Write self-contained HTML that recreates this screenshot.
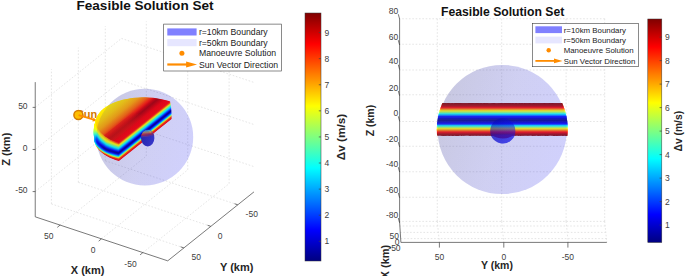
<!DOCTYPE html>
<html><head><meta charset="utf-8"><style>
html,body{margin:0;padding:0;background:#fff;}
svg{display:block;font-family:"Liberation Sans",sans-serif;}
.g{stroke:#dadada;stroke-width:0.7;stroke-dasharray:1.6 1.75;fill:none}
.ax{stroke:#404040;stroke-width:0.7;fill:none}
.tk{font-size:8.5px;fill:#404040}
.tkR{font-size:8.5px;fill:#404040}
.alR{font-size:10.5px;font-weight:bold;fill:#262626}
.al{font-size:11px;font-weight:bold;fill:#262626}
.ttl{font-size:13.55px;font-weight:bold;fill:#111}
.ttlR{font-size:12.2px;font-weight:bold;fill:#111}
.lg{fill:#1a1a1a}
.sun{font-size:11px;font-weight:bold;fill:#d27800}
</style></head><body>
<svg width="685" height="276" viewBox="0 0 685 276">
<defs>
<linearGradient id="sphL" x1="0" y1="0.35" x2="1" y2="0.65"><stop offset="0" stop-color="#484898" stop-opacity="0.163"/><stop offset="0.5" stop-color="#3434c8" stop-opacity="0.125"/><stop offset="1" stop-color="#1818f0" stop-opacity="0.106"/></linearGradient>
<linearGradient id="l37" gradientUnits="userSpaceOnUse" x1="144.6" y1="140.5" x2="121.2" y2="112.0"><stop offset="0.00" stop-color="#fa0000"/><stop offset="0.12" stop-color="#fa0000"/><stop offset="0.24" stop-color="#fa0000"/><stop offset="0.35" stop-color="#fa0000"/><stop offset="0.44" stop-color="#ff0d00"/><stop offset="0.54" stop-color="#ff2100"/><stop offset="0.66" stop-color="#ff3900"/><stop offset="0.76" stop-color="#c2ff3d"/><stop offset="0.87" stop-color="#0057ff"/><stop offset="1.00" stop-color="#0057ff"/></linearGradient>
<linearGradient id="l36" gradientUnits="userSpaceOnUse" x1="144.6" y1="140.0" x2="121.2" y2="111.5"><stop offset="0.00" stop-color="#ff0a00"/><stop offset="0.12" stop-color="#ff0e00"/><stop offset="0.24" stop-color="#ff1300"/><stop offset="0.35" stop-color="#ff1700"/><stop offset="0.44" stop-color="#ff3d00"/><stop offset="0.54" stop-color="#ff6800"/><stop offset="0.66" stop-color="#ffce00"/><stop offset="0.76" stop-color="#53ffac"/><stop offset="0.87" stop-color="#0068ff"/><stop offset="1.00" stop-color="#0068ff"/></linearGradient>
<linearGradient id="l35" gradientUnits="userSpaceOnUse" x1="144.6" y1="139.5" x2="121.2" y2="111.0"><stop offset="0.00" stop-color="#ff1a00"/><stop offset="0.12" stop-color="#ff2200"/><stop offset="0.24" stop-color="#ff2b00"/><stop offset="0.35" stop-color="#ff3300"/><stop offset="0.44" stop-color="#ff7000"/><stop offset="0.54" stop-color="#ffe600"/><stop offset="0.66" stop-color="#88ff77"/><stop offset="0.76" stop-color="#00f6ff"/><stop offset="0.87" stop-color="#0079ff"/><stop offset="1.00" stop-color="#0079ff"/></linearGradient>
<linearGradient id="l34" gradientUnits="userSpaceOnUse" x1="144.6" y1="139.0" x2="121.2" y2="110.5"><stop offset="0.00" stop-color="#ff2900"/><stop offset="0.12" stop-color="#ff4000"/><stop offset="0.24" stop-color="#ff5a00"/><stop offset="0.35" stop-color="#ff7700"/><stop offset="0.44" stop-color="#ffdc00"/><stop offset="0.54" stop-color="#d3ff2c"/><stop offset="0.66" stop-color="#2cffd3"/><stop offset="0.76" stop-color="#00daff"/><stop offset="0.87" stop-color="#008bff"/><stop offset="1.00" stop-color="#008bff"/></linearGradient>
<linearGradient id="l33" gradientUnits="userSpaceOnUse" x1="144.6" y1="138.5" x2="121.2" y2="110.0"><stop offset="0.00" stop-color="#ff3900"/><stop offset="0.12" stop-color="#ff6200"/><stop offset="0.24" stop-color="#ffb500"/><stop offset="0.35" stop-color="#fff100"/><stop offset="0.44" stop-color="#d3ff2c"/><stop offset="0.54" stop-color="#61ff9e"/><stop offset="0.66" stop-color="#00f4ff"/><stop offset="0.76" stop-color="#00caff"/><stop offset="0.87" stop-color="#009cff"/><stop offset="1.00" stop-color="#009cff"/></linearGradient>
<linearGradient id="l32" gradientUnits="userSpaceOnUse" x1="144.6" y1="138.0" x2="121.2" y2="109.5"><stop offset="0.00" stop-color="#ff6f00"/><stop offset="0.12" stop-color="#ffd100"/><stop offset="0.24" stop-color="#f1ff0e"/><stop offset="0.35" stop-color="#7fff80"/><stop offset="0.44" stop-color="#45ffba"/><stop offset="0.54" stop-color="#05fffa"/><stop offset="0.66" stop-color="#00c7ff"/><stop offset="0.76" stop-color="#00bbff"/><stop offset="0.87" stop-color="#00adff"/><stop offset="1.00" stop-color="#00adff"/></linearGradient>
<linearGradient id="l31" gradientUnits="userSpaceOnUse" x1="144.6" y1="137.5" x2="121.2" y2="109.0"><stop offset="0.00" stop-color="#ffd800"/><stop offset="0.12" stop-color="#f1ff0e"/><stop offset="0.24" stop-color="#7aff85"/><stop offset="0.35" stop-color="#1bffe4"/><stop offset="0.44" stop-color="#00f0ff"/><stop offset="0.54" stop-color="#00c9ff"/><stop offset="0.66" stop-color="#009aff"/><stop offset="0.76" stop-color="#00abff"/><stop offset="0.87" stop-color="#00bfff"/><stop offset="1.00" stop-color="#00bfff"/></linearGradient>
<linearGradient id="l30" gradientUnits="userSpaceOnUse" x1="144.6" y1="137.0" x2="121.2" y2="108.5"><stop offset="0.00" stop-color="#e8ff17"/><stop offset="0.12" stop-color="#7bff84"/><stop offset="0.24" stop-color="#1dffe2"/><stop offset="0.35" stop-color="#00d2ff"/><stop offset="0.44" stop-color="#00b5ff"/><stop offset="0.54" stop-color="#0094ff"/><stop offset="0.66" stop-color="#006cff"/><stop offset="0.76" stop-color="#009cff"/><stop offset="0.87" stop-color="#00d0ff"/><stop offset="1.00" stop-color="#00d0ff"/></linearGradient>
<linearGradient id="l29" gradientUnits="userSpaceOnUse" x1="144.6" y1="136.5" x2="121.2" y2="108.0"><stop offset="0.00" stop-color="#63ff9c"/><stop offset="0.12" stop-color="#15ffea"/><stop offset="0.24" stop-color="#00ceff"/><stop offset="0.35" stop-color="#0091ff"/><stop offset="0.44" stop-color="#007dff"/><stop offset="0.54" stop-color="#0067ff"/><stop offset="0.66" stop-color="#004fff"/><stop offset="0.76" stop-color="#0094ff"/><stop offset="0.87" stop-color="#00e1ff"/><stop offset="1.00" stop-color="#00e1ff"/></linearGradient>
<linearGradient id="l28" gradientUnits="userSpaceOnUse" x1="144.6" y1="136.0" x2="121.2" y2="107.5"><stop offset="0.00" stop-color="#14ffeb"/><stop offset="0.12" stop-color="#00d1ff"/><stop offset="0.24" stop-color="#008eff"/><stop offset="0.35" stop-color="#0051ff"/><stop offset="0.44" stop-color="#004cff"/><stop offset="0.54" stop-color="#0047ff"/><stop offset="0.66" stop-color="#0040ff"/><stop offset="0.76" stop-color="#0092ff"/><stop offset="0.87" stop-color="#00f3ff"/><stop offset="1.00" stop-color="#00f3ff"/></linearGradient>
<linearGradient id="l27" gradientUnits="userSpaceOnUse" x1="144.6" y1="135.5" x2="121.2" y2="107.0"><stop offset="0.00" stop-color="#00d4ff"/><stop offset="0.12" stop-color="#0094ff"/><stop offset="0.24" stop-color="#0050ff"/><stop offset="0.35" stop-color="#001cff"/><stop offset="0.44" stop-color="#0022ff"/><stop offset="0.54" stop-color="#0029ff"/><stop offset="0.66" stop-color="#0031ff"/><stop offset="0.76" stop-color="#0091ff"/><stop offset="0.87" stop-color="#06fff9"/><stop offset="1.00" stop-color="#06fff9"/></linearGradient>
<linearGradient id="l26" gradientUnits="userSpaceOnUse" x1="144.6" y1="135.0" x2="121.2" y2="106.6"><stop offset="0.00" stop-color="#0099ff"/><stop offset="0.12" stop-color="#0057ff"/><stop offset="0.24" stop-color="#001cff"/><stop offset="0.35" stop-color="#0000e6"/><stop offset="0.44" stop-color="#0000f7"/><stop offset="0.54" stop-color="#000bff"/><stop offset="0.66" stop-color="#0022ff"/><stop offset="0.76" stop-color="#008eff"/><stop offset="0.87" stop-color="#1affe5"/><stop offset="1.00" stop-color="#1affe5"/></linearGradient>
<linearGradient id="l25" gradientUnits="userSpaceOnUse" x1="144.6" y1="134.5" x2="121.2" y2="106.1"><stop offset="0.00" stop-color="#005eff"/><stop offset="0.12" stop-color="#0025ff"/><stop offset="0.24" stop-color="#0000e8"/><stop offset="0.35" stop-color="#0000b1"/><stop offset="0.44" stop-color="#0000cd"/><stop offset="0.54" stop-color="#0000ec"/><stop offset="0.66" stop-color="#0013ff"/><stop offset="0.76" stop-color="#008cff"/><stop offset="0.87" stop-color="#2fffd0"/><stop offset="1.00" stop-color="#2fffd0"/></linearGradient>
<linearGradient id="l24" gradientUnits="userSpaceOnUse" x1="144.6" y1="134.1" x2="121.2" y2="105.6"><stop offset="0.00" stop-color="#0024ff"/><stop offset="0.12" stop-color="#0000ed"/><stop offset="0.24" stop-color="#0000b2"/><stop offset="0.35" stop-color="#00008d"/><stop offset="0.44" stop-color="#0000a3"/><stop offset="0.54" stop-color="#0000cf"/><stop offset="0.66" stop-color="#0004ff"/><stop offset="0.76" stop-color="#008aff"/><stop offset="0.87" stop-color="#43ffbc"/><stop offset="1.00" stop-color="#43ffbc"/></linearGradient>
<linearGradient id="l23" gradientUnits="userSpaceOnUse" x1="144.6" y1="133.6" x2="121.2" y2="105.1"><stop offset="0.00" stop-color="#0000e9"/><stop offset="0.12" stop-color="#0000c2"/><stop offset="0.24" stop-color="#00009b"/><stop offset="0.35" stop-color="#000089"/><stop offset="0.44" stop-color="#00009e"/><stop offset="0.54" stop-color="#0000cd"/><stop offset="0.66" stop-color="#0007ff"/><stop offset="0.76" stop-color="#0093ff"/><stop offset="0.87" stop-color="#57ffa8"/><stop offset="1.00" stop-color="#57ffa8"/></linearGradient>
<linearGradient id="l22" gradientUnits="userSpaceOnUse" x1="144.6" y1="133.1" x2="121.2" y2="104.6"><stop offset="0.00" stop-color="#0000ae"/><stop offset="0.12" stop-color="#0000a9"/><stop offset="0.24" stop-color="#0000a3"/><stop offset="0.35" stop-color="#00009e"/><stop offset="0.44" stop-color="#0000c0"/><stop offset="0.54" stop-color="#0000e5"/><stop offset="0.66" stop-color="#0013ff"/><stop offset="0.76" stop-color="#00a3ff"/><stop offset="0.87" stop-color="#6cff93"/><stop offset="1.00" stop-color="#6cff93"/></linearGradient>
<linearGradient id="l21" gradientUnits="userSpaceOnUse" x1="144.6" y1="132.6" x2="121.2" y2="104.1"><stop offset="0.00" stop-color="#00008a"/><stop offset="0.12" stop-color="#000097"/><stop offset="0.24" stop-color="#0000ae"/><stop offset="0.35" stop-color="#0000c9"/><stop offset="0.44" stop-color="#0000e2"/><stop offset="0.54" stop-color="#0000fe"/><stop offset="0.66" stop-color="#0020ff"/><stop offset="0.76" stop-color="#00b3ff"/><stop offset="0.87" stop-color="#80ff7f"/><stop offset="1.00" stop-color="#80ff7f"/></linearGradient>
<linearGradient id="l20" gradientUnits="userSpaceOnUse" x1="144.6" y1="132.1" x2="121.2" y2="103.6"><stop offset="0.00" stop-color="#00008e"/><stop offset="0.12" stop-color="#0000a4"/><stop offset="0.24" stop-color="#0000ce"/><stop offset="0.35" stop-color="#0000f5"/><stop offset="0.44" stop-color="#0006ff"/><stop offset="0.54" stop-color="#0017ff"/><stop offset="0.66" stop-color="#002cff"/><stop offset="0.76" stop-color="#00c2ff"/><stop offset="0.87" stop-color="#9bff64"/><stop offset="1.00" stop-color="#9bff64"/></linearGradient>
<linearGradient id="l19" gradientUnits="userSpaceOnUse" x1="144.6" y1="131.6" x2="121.2" y2="103.1"><stop offset="0.00" stop-color="#0000ae"/><stop offset="0.12" stop-color="#0000d3"/><stop offset="0.24" stop-color="#0000fc"/><stop offset="0.35" stop-color="#0022ff"/><stop offset="0.44" stop-color="#0029ff"/><stop offset="0.54" stop-color="#0030ff"/><stop offset="0.66" stop-color="#0039ff"/><stop offset="0.76" stop-color="#00d2ff"/><stop offset="0.87" stop-color="#b6ff49"/><stop offset="1.00" stop-color="#b6ff49"/></linearGradient>
<linearGradient id="l18" gradientUnits="userSpaceOnUse" x1="144.6" y1="131.1" x2="121.2" y2="102.6"><stop offset="0.00" stop-color="#0000df"/><stop offset="0.12" stop-color="#0003ff"/><stop offset="0.24" stop-color="#002aff"/><stop offset="0.35" stop-color="#004eff"/><stop offset="0.44" stop-color="#004bff"/><stop offset="0.54" stop-color="#0048ff"/><stop offset="0.66" stop-color="#0045ff"/><stop offset="0.76" stop-color="#00e1ff"/><stop offset="0.87" stop-color="#d2ff2d"/><stop offset="1.00" stop-color="#d2ff2d"/></linearGradient>
<linearGradient id="l17" gradientUnits="userSpaceOnUse" x1="144.6" y1="130.6" x2="121.2" y2="102.1"><stop offset="0.00" stop-color="#0011ff"/><stop offset="0.12" stop-color="#002fff"/><stop offset="0.24" stop-color="#0050ff"/><stop offset="0.35" stop-color="#0073ff"/><stop offset="0.44" stop-color="#0069ff"/><stop offset="0.54" stop-color="#005eff"/><stop offset="0.66" stop-color="#0051ff"/><stop offset="0.76" stop-color="#00f1ff"/><stop offset="0.87" stop-color="#e9ff16"/><stop offset="1.00" stop-color="#e9ff16"/></linearGradient>
<linearGradient id="l16" gradientUnits="userSpaceOnUse" x1="144.6" y1="130.1" x2="121.2" y2="101.6"><stop offset="0.00" stop-color="#0042ff"/><stop offset="0.12" stop-color="#005aff"/><stop offset="0.24" stop-color="#007aff"/><stop offset="0.35" stop-color="#0098ff"/><stop offset="0.44" stop-color="#008bff"/><stop offset="0.54" stop-color="#007dff"/><stop offset="0.66" stop-color="#006cff"/><stop offset="0.76" stop-color="#0afff5"/><stop offset="0.87" stop-color="#f4ff0b"/><stop offset="1.00" stop-color="#f4ff0b"/></linearGradient>
<linearGradient id="l15" gradientUnits="userSpaceOnUse" x1="144.6" y1="129.6" x2="121.2" y2="101.1"><stop offset="0.00" stop-color="#006eff"/><stop offset="0.12" stop-color="#0087ff"/><stop offset="0.24" stop-color="#00a3ff"/><stop offset="0.35" stop-color="#00bcff"/><stop offset="0.44" stop-color="#00afff"/><stop offset="0.54" stop-color="#00a1ff"/><stop offset="0.66" stop-color="#0090ff"/><stop offset="0.76" stop-color="#2cffd3"/><stop offset="0.87" stop-color="#ffff00"/><stop offset="1.00" stop-color="#ffff00"/></linearGradient>
<linearGradient id="l14" gradientUnits="userSpaceOnUse" x1="144.6" y1="129.1" x2="121.2" y2="100.6"><stop offset="0.00" stop-color="#0098ff"/><stop offset="0.12" stop-color="#00afff"/><stop offset="0.24" stop-color="#00c9ff"/><stop offset="0.35" stop-color="#00e0ff"/><stop offset="0.44" stop-color="#00d3ff"/><stop offset="0.54" stop-color="#00c5ff"/><stop offset="0.66" stop-color="#00b4ff"/><stop offset="0.76" stop-color="#47ffb8"/><stop offset="0.87" stop-color="#fffb00"/><stop offset="1.00" stop-color="#fffb00"/></linearGradient>
<linearGradient id="l13" gradientUnits="userSpaceOnUse" x1="144.6" y1="128.6" x2="121.2" y2="100.1"><stop offset="0.00" stop-color="#00c2ff"/><stop offset="0.12" stop-color="#00d7ff"/><stop offset="0.24" stop-color="#00eeff"/><stop offset="0.35" stop-color="#06fff9"/><stop offset="0.44" stop-color="#00f7ff"/><stop offset="0.54" stop-color="#00e9ff"/><stop offset="0.66" stop-color="#00d8ff"/><stop offset="0.76" stop-color="#61ff9e"/><stop offset="0.87" stop-color="#fffa00"/><stop offset="1.00" stop-color="#fffa00"/></linearGradient>
<linearGradient id="l12" gradientUnits="userSpaceOnUse" x1="144.6" y1="128.1" x2="121.2" y2="99.6"><stop offset="0.00" stop-color="#00ebff"/><stop offset="0.12" stop-color="#00ffff"/><stop offset="0.24" stop-color="#1bffe4"/><stop offset="0.35" stop-color="#33ffcc"/><stop offset="0.44" stop-color="#24ffdb"/><stop offset="0.54" stop-color="#12ffed"/><stop offset="0.66" stop-color="#00fcff"/><stop offset="0.76" stop-color="#7aff85"/><stop offset="0.87" stop-color="#fff900"/><stop offset="1.00" stop-color="#fff900"/></linearGradient>
<linearGradient id="l11" gradientUnits="userSpaceOnUse" x1="144.6" y1="127.6" x2="121.2" y2="99.1"><stop offset="0.00" stop-color="#13ffec"/><stop offset="0.12" stop-color="#2cffd3"/><stop offset="0.24" stop-color="#48ffb7"/><stop offset="0.35" stop-color="#60ff9f"/><stop offset="0.44" stop-color="#4dffb2"/><stop offset="0.54" stop-color="#36ffc9"/><stop offset="0.66" stop-color="#1cffe3"/><stop offset="0.76" stop-color="#8fff70"/><stop offset="0.87" stop-color="#fff800"/><stop offset="1.00" stop-color="#fff800"/></linearGradient>
<linearGradient id="l10" gradientUnits="userSpaceOnUse" x1="144.6" y1="127.1" x2="121.2" y2="98.6"><stop offset="0.00" stop-color="#39ffc6"/><stop offset="0.12" stop-color="#53ffac"/><stop offset="0.24" stop-color="#6fff90"/><stop offset="0.35" stop-color="#8dff72"/><stop offset="0.44" stop-color="#72ff8d"/><stop offset="0.54" stop-color="#59ffa6"/><stop offset="0.66" stop-color="#3affc5"/><stop offset="0.76" stop-color="#a5ff5a"/><stop offset="0.87" stop-color="#fff700"/><stop offset="1.00" stop-color="#fff700"/></linearGradient>
<linearGradient id="l9" gradientUnits="userSpaceOnUse" x1="144.6" y1="126.6" x2="121.2" y2="98.1"><stop offset="0.00" stop-color="#5effa1"/><stop offset="0.12" stop-color="#76ff89"/><stop offset="0.24" stop-color="#97ff68"/><stop offset="0.35" stop-color="#b8ff47"/><stop offset="0.44" stop-color="#98ff67"/><stop offset="0.54" stop-color="#78ff87"/><stop offset="0.66" stop-color="#58ffa7"/><stop offset="0.76" stop-color="#bbff44"/><stop offset="0.87" stop-color="#fff600"/><stop offset="1.00" stop-color="#fff600"/></linearGradient>
<linearGradient id="l8" gradientUnits="userSpaceOnUse" x1="144.6" y1="126.1" x2="121.2" y2="97.7"><stop offset="0.00" stop-color="#85ff7a"/><stop offset="0.12" stop-color="#a3ff5c"/><stop offset="0.24" stop-color="#c4ff3b"/><stop offset="0.35" stop-color="#e3ff1c"/><stop offset="0.44" stop-color="#c2ff3d"/><stop offset="0.54" stop-color="#9eff61"/><stop offset="0.66" stop-color="#76ff89"/><stop offset="0.76" stop-color="#d1ff2e"/><stop offset="0.87" stop-color="#fff500"/><stop offset="1.00" stop-color="#fff500"/></linearGradient>
<linearGradient id="l7" gradientUnits="userSpaceOnUse" x1="144.6" y1="125.6" x2="121.2" y2="97.2"><stop offset="0.00" stop-color="#c6ff39"/><stop offset="0.12" stop-color="#ddff22"/><stop offset="0.24" stop-color="#edff12"/><stop offset="0.35" stop-color="#f6ff09"/><stop offset="0.44" stop-color="#eaff15"/><stop offset="0.54" stop-color="#ceff31"/><stop offset="0.66" stop-color="#a6ff59"/><stop offset="0.76" stop-color="#e9ff16"/><stop offset="0.87" stop-color="#fff400"/><stop offset="1.00" stop-color="#fff400"/></linearGradient>
<linearGradient id="l6" gradientUnits="userSpaceOnUse" x1="144.6" y1="125.1" x2="121.2" y2="96.7"><stop offset="0.00" stop-color="#f4ff0b"/><stop offset="0.12" stop-color="#faff05"/><stop offset="0.24" stop-color="#fffc00"/><stop offset="0.35" stop-color="#fff600"/><stop offset="0.44" stop-color="#fdff02"/><stop offset="0.54" stop-color="#f1ff0e"/><stop offset="0.66" stop-color="#deff21"/><stop offset="0.76" stop-color="#f5ff0a"/><stop offset="0.87" stop-color="#fff300"/><stop offset="1.00" stop-color="#fff300"/></linearGradient>
<linearGradient id="l5" gradientUnits="userSpaceOnUse" x1="144.6" y1="124.7" x2="121.2" y2="96.2"><stop offset="0.00" stop-color="#ffef00"/><stop offset="0.12" stop-color="#ffec00"/><stop offset="0.24" stop-color="#ffe800"/><stop offset="0.35" stop-color="#ffe500"/><stop offset="0.44" stop-color="#ffee00"/><stop offset="0.54" stop-color="#fff800"/><stop offset="0.66" stop-color="#faff05"/><stop offset="0.76" stop-color="#fffc00"/><stop offset="0.87" stop-color="#fff200"/><stop offset="1.00" stop-color="#fff200"/></linearGradient>
<linearGradient id="l4" gradientUnits="userSpaceOnUse" x1="144.6" y1="124.2" x2="121.2" y2="95.7"><stop offset="0.00" stop-color="#ffba00"/><stop offset="0.12" stop-color="#ffc400"/><stop offset="0.24" stop-color="#ffcf00"/><stop offset="0.35" stop-color="#ffd600"/><stop offset="0.44" stop-color="#ffdc00"/><stop offset="0.54" stop-color="#ffe400"/><stop offset="0.66" stop-color="#ffed00"/><stop offset="0.76" stop-color="#ffef00"/><stop offset="0.87" stop-color="#fff200"/><stop offset="1.00" stop-color="#fff200"/></linearGradient>
<linearGradient id="l3" gradientUnits="userSpaceOnUse" x1="144.6" y1="123.7" x2="121.2" y2="95.2"><stop offset="0.00" stop-color="#ff6d00"/><stop offset="0.12" stop-color="#ff8700"/><stop offset="0.24" stop-color="#ffa400"/><stop offset="0.35" stop-color="#ffbe00"/><stop offset="0.44" stop-color="#ffcd00"/><stop offset="0.54" stop-color="#ffd900"/><stop offset="0.66" stop-color="#ffe400"/><stop offset="0.76" stop-color="#ffea00"/><stop offset="0.87" stop-color="#fff100"/><stop offset="1.00" stop-color="#fff100"/></linearGradient>
<linearGradient id="l2" gradientUnits="userSpaceOnUse" x1="144.6" y1="123.2" x2="121.2" y2="94.7"><stop offset="0.00" stop-color="#ff4600"/><stop offset="0.12" stop-color="#ff5b00"/><stop offset="0.24" stop-color="#ff7800"/><stop offset="0.35" stop-color="#ffa200"/><stop offset="0.44" stop-color="#ffb500"/><stop offset="0.54" stop-color="#ffca00"/><stop offset="0.66" stop-color="#ffdc00"/><stop offset="0.76" stop-color="#ffe500"/><stop offset="0.87" stop-color="#fff000"/><stop offset="1.00" stop-color="#fff000"/></linearGradient>
<linearGradient id="l1" gradientUnits="userSpaceOnUse" x1="144.6" y1="122.7" x2="121.2" y2="94.2"><stop offset="0.00" stop-color="#ff2100"/><stop offset="0.12" stop-color="#ff3d00"/><stop offset="0.24" stop-color="#ff5c00"/><stop offset="0.35" stop-color="#ff8700"/><stop offset="0.44" stop-color="#ff9d00"/><stop offset="0.54" stop-color="#ffb600"/><stop offset="0.66" stop-color="#ffd300"/><stop offset="0.76" stop-color="#ffe000"/><stop offset="0.87" stop-color="#ffef00"/><stop offset="1.00" stop-color="#ffef00"/></linearGradient>
<linearGradient id="topL" gradientUnits="userSpaceOnUse" x1="144.6" y1="122.2" x2="121.2" y2="93.7"><stop offset="0.000" stop-color="#ff0500"/><stop offset="0.120" stop-color="#f50000"/><stop offset="0.200" stop-color="#cc0000"/><stop offset="0.260" stop-color="#ad0000"/><stop offset="0.320" stop-color="#d60000"/><stop offset="0.380" stop-color="#ff1a00"/><stop offset="0.480" stop-color="#ff6600"/><stop offset="0.620" stop-color="#ffa800"/><stop offset="0.780" stop-color="#ffd100"/><stop offset="0.940" stop-color="#ffeb00"/></linearGradient>
<clipPath id="clipTop"><path d="M118.9,142.7 L115.7,141.7 L112.7,140.5 L109.9,139.2 L107.4,137.7 L105.0,136.2 L102.9,134.6 L101.1,132.9 L99.5,131.1 L98.2,129.3 L97.2,127.4 L96.5,125.5 L96.1,123.5 L96.0,121.6 L96.2,119.6 L96.7,117.7 L97.5,115.7 L98.6,113.9 L100.0,112.0 L101.7,110.3 L103.6,108.6 L105.8,107.0 L108.2,105.4 L110.9,104.0 L113.8,102.7 L116.8,101.6 L120.1,100.5 L123.4,99.6 L126.9,98.9 L130.5,98.2 L134.2,97.8 L138.0,97.5 L141.8,97.3 L145.6,97.3 L149.3,97.5 L153.1,97.8 L156.7,98.3 L160.3,98.9 L163.8,99.7 L167.1,100.6 L170.3,101.6Z"/></clipPath>
<linearGradient id="fadeL" gradientUnits="userSpaceOnUse" x1="148.9" y1="118.7" x2="132.7" y2="131.7"><stop offset="0" stop-color="#e41400" stop-opacity="0"/><stop offset="1" stop-color="#e41400" stop-opacity="0.55"/></linearGradient>
<linearGradient id="smL" x1="0" y1="0.3" x2="1" y2="0.7"><stop offset="0" stop-color="#2424a4"/><stop offset="0.6" stop-color="#2e2ebc"/><stop offset="1" stop-color="#3a3aca"/></linearGradient>
<clipPath id="clipSmL"><ellipse cx="147.7" cy="138.1" rx="6.7" ry="8.5"/></clipPath>
<linearGradient id="cbL" x1="0" y1="0" x2="0" y2="1"><stop offset="0.0000" stop-color="#800000"/><stop offset="0.0156" stop-color="#8f0000"/><stop offset="0.0312" stop-color="#9f0000"/><stop offset="0.0469" stop-color="#af0000"/><stop offset="0.0625" stop-color="#bf0000"/><stop offset="0.0781" stop-color="#cf0000"/><stop offset="0.0938" stop-color="#df0000"/><stop offset="0.1094" stop-color="#ef0000"/><stop offset="0.1250" stop-color="#ff0000"/><stop offset="0.1406" stop-color="#ff1000"/><stop offset="0.1562" stop-color="#ff2000"/><stop offset="0.1719" stop-color="#ff3000"/><stop offset="0.1875" stop-color="#ff4000"/><stop offset="0.2031" stop-color="#ff5000"/><stop offset="0.2188" stop-color="#ff6000"/><stop offset="0.2344" stop-color="#ff7000"/><stop offset="0.2500" stop-color="#ff8000"/><stop offset="0.2656" stop-color="#ff8f00"/><stop offset="0.2812" stop-color="#ff9f00"/><stop offset="0.2969" stop-color="#ffaf00"/><stop offset="0.3125" stop-color="#ffbf00"/><stop offset="0.3281" stop-color="#ffcf00"/><stop offset="0.3438" stop-color="#ffdf00"/><stop offset="0.3594" stop-color="#ffef00"/><stop offset="0.3750" stop-color="#ffff00"/><stop offset="0.3906" stop-color="#efff10"/><stop offset="0.4062" stop-color="#dfff20"/><stop offset="0.4219" stop-color="#cfff30"/><stop offset="0.4375" stop-color="#bfff40"/><stop offset="0.4531" stop-color="#afff50"/><stop offset="0.4688" stop-color="#9fff60"/><stop offset="0.4844" stop-color="#8fff70"/><stop offset="0.5000" stop-color="#80ff80"/><stop offset="0.5156" stop-color="#70ff8f"/><stop offset="0.5312" stop-color="#60ff9f"/><stop offset="0.5469" stop-color="#50ffaf"/><stop offset="0.5625" stop-color="#40ffbf"/><stop offset="0.5781" stop-color="#30ffcf"/><stop offset="0.5938" stop-color="#20ffdf"/><stop offset="0.6094" stop-color="#10ffef"/><stop offset="0.6250" stop-color="#00ffff"/><stop offset="0.6406" stop-color="#00efff"/><stop offset="0.6562" stop-color="#00dfff"/><stop offset="0.6719" stop-color="#00cfff"/><stop offset="0.6875" stop-color="#00bfff"/><stop offset="0.7031" stop-color="#00afff"/><stop offset="0.7188" stop-color="#009fff"/><stop offset="0.7344" stop-color="#008fff"/><stop offset="0.7500" stop-color="#0080ff"/><stop offset="0.7656" stop-color="#0070ff"/><stop offset="0.7812" stop-color="#0060ff"/><stop offset="0.7969" stop-color="#0050ff"/><stop offset="0.8125" stop-color="#0040ff"/><stop offset="0.8281" stop-color="#0030ff"/><stop offset="0.8438" stop-color="#0020ff"/><stop offset="0.8594" stop-color="#0010ff"/><stop offset="0.8750" stop-color="#0000ff"/><stop offset="0.8906" stop-color="#0000ef"/><stop offset="0.9062" stop-color="#0000df"/><stop offset="0.9219" stop-color="#0000cf"/><stop offset="0.9375" stop-color="#0000bf"/><stop offset="0.9531" stop-color="#0000af"/><stop offset="0.9688" stop-color="#00009f"/><stop offset="0.9844" stop-color="#00008f"/><stop offset="1.0000" stop-color="#000080"/></linearGradient>
<linearGradient id="smR" x1="0" y1="0.3" x2="1" y2="0.7"><stop offset="0" stop-color="#0808b0"/><stop offset="0.5" stop-color="#1010d8"/><stop offset="1" stop-color="#1818ec"/></linearGradient>
<clipPath id="clipBand"><circle cx="502.3" cy="129.5" r="65.5"/></clipPath>
<linearGradient id="cbR" x1="0" y1="0" x2="0" y2="1"><stop offset="0.0000" stop-color="#800000"/><stop offset="0.0156" stop-color="#8f0000"/><stop offset="0.0312" stop-color="#9f0000"/><stop offset="0.0469" stop-color="#af0000"/><stop offset="0.0625" stop-color="#bf0000"/><stop offset="0.0781" stop-color="#cf0000"/><stop offset="0.0938" stop-color="#df0000"/><stop offset="0.1094" stop-color="#ef0000"/><stop offset="0.1250" stop-color="#ff0000"/><stop offset="0.1406" stop-color="#ff1000"/><stop offset="0.1562" stop-color="#ff2000"/><stop offset="0.1719" stop-color="#ff3000"/><stop offset="0.1875" stop-color="#ff4000"/><stop offset="0.2031" stop-color="#ff5000"/><stop offset="0.2188" stop-color="#ff6000"/><stop offset="0.2344" stop-color="#ff7000"/><stop offset="0.2500" stop-color="#ff8000"/><stop offset="0.2656" stop-color="#ff8f00"/><stop offset="0.2812" stop-color="#ff9f00"/><stop offset="0.2969" stop-color="#ffaf00"/><stop offset="0.3125" stop-color="#ffbf00"/><stop offset="0.3281" stop-color="#ffcf00"/><stop offset="0.3438" stop-color="#ffdf00"/><stop offset="0.3594" stop-color="#ffef00"/><stop offset="0.3750" stop-color="#ffff00"/><stop offset="0.3906" stop-color="#efff10"/><stop offset="0.4062" stop-color="#dfff20"/><stop offset="0.4219" stop-color="#cfff30"/><stop offset="0.4375" stop-color="#bfff40"/><stop offset="0.4531" stop-color="#afff50"/><stop offset="0.4688" stop-color="#9fff60"/><stop offset="0.4844" stop-color="#8fff70"/><stop offset="0.5000" stop-color="#80ff80"/><stop offset="0.5156" stop-color="#70ff8f"/><stop offset="0.5312" stop-color="#60ff9f"/><stop offset="0.5469" stop-color="#50ffaf"/><stop offset="0.5625" stop-color="#40ffbf"/><stop offset="0.5781" stop-color="#30ffcf"/><stop offset="0.5938" stop-color="#20ffdf"/><stop offset="0.6094" stop-color="#10ffef"/><stop offset="0.6250" stop-color="#00ffff"/><stop offset="0.6406" stop-color="#00efff"/><stop offset="0.6562" stop-color="#00dfff"/><stop offset="0.6719" stop-color="#00cfff"/><stop offset="0.6875" stop-color="#00bfff"/><stop offset="0.7031" stop-color="#00afff"/><stop offset="0.7188" stop-color="#009fff"/><stop offset="0.7344" stop-color="#008fff"/><stop offset="0.7500" stop-color="#0080ff"/><stop offset="0.7656" stop-color="#0070ff"/><stop offset="0.7812" stop-color="#0060ff"/><stop offset="0.7969" stop-color="#0050ff"/><stop offset="0.8125" stop-color="#0040ff"/><stop offset="0.8281" stop-color="#0030ff"/><stop offset="0.8438" stop-color="#0020ff"/><stop offset="0.8594" stop-color="#0010ff"/><stop offset="0.8750" stop-color="#0000ff"/><stop offset="0.8906" stop-color="#0000ef"/><stop offset="0.9062" stop-color="#0000df"/><stop offset="0.9219" stop-color="#0000cf"/><stop offset="0.9375" stop-color="#0000bf"/><stop offset="0.9531" stop-color="#0000af"/><stop offset="0.9688" stop-color="#00009f"/><stop offset="0.9844" stop-color="#00008f"/><stop offset="1.0000" stop-color="#000080"/></linearGradient>
</defs>
<rect width="685" height="276" fill="#fff"/>
<line x1="105.31" y1="160.81" x2="105.31" y2="26.09" class="g"/>
<line x1="35.24" y1="191.58" x2="121.48" y2="122.62" class="g"/>
<line x1="229.12" y1="183.63" x2="229.12" y2="48.91" class="g"/>
<line x1="121.48" y1="122.62" x2="253.96" y2="166.62" class="g"/>
<line x1="142.88" y1="252.59" x2="229.12" y2="183.63" class="g"/>
<line x1="105.31" y1="160.81" x2="237.79" y2="204.81" class="g"/>
<line x1="78.36" y1="182.36" x2="78.36" y2="47.64" class="g"/>
<line x1="35.24" y1="149.48" x2="121.48" y2="80.52" class="g"/>
<line x1="187.72" y1="169.88" x2="187.72" y2="35.16" class="g"/>
<line x1="121.48" y1="80.52" x2="253.96" y2="124.52" class="g"/>
<line x1="101.48" y1="238.84" x2="187.72" y2="169.88" class="g"/>
<line x1="78.36" y1="182.36" x2="210.84" y2="226.36" class="g"/>
<line x1="51.41" y1="203.91" x2="51.41" y2="69.19" class="g"/>
<line x1="35.24" y1="107.38" x2="121.48" y2="38.42" class="g"/>
<line x1="146.32" y1="156.13" x2="146.32" y2="21.41" class="g"/>
<line x1="121.48" y1="38.42" x2="253.96" y2="82.42" class="g"/>
<line x1="60.08" y1="225.09" x2="146.32" y2="156.13" class="g"/>
<line x1="51.41" y1="203.91" x2="183.89" y2="247.91" class="g"/>
<line x1="35.24" y1="82.12" x2="35.24" y2="216.84" class="ax"/>
<line x1="35.24" y1="216.84" x2="167.72" y2="260.84" class="ax"/>
<line x1="167.72" y1="260.84" x2="253.96" y2="191.88" class="ax"/>
<line x1="35.24" y1="191.58" x2="32.64" y2="191.58" class="ax"/>
<line x1="142.88" y1="252.59" x2="140.08" y2="254.89" class="ax"/>
<line x1="237.79" y1="204.81" x2="234.49" y2="203.71" class="ax"/>
<line x1="35.24" y1="149.48" x2="32.64" y2="149.48" class="ax"/>
<line x1="101.48" y1="238.84" x2="98.68" y2="241.14" class="ax"/>
<line x1="210.84" y1="226.36" x2="207.54" y2="225.26" class="ax"/>
<line x1="35.24" y1="107.38" x2="32.64" y2="107.38" class="ax"/>
<line x1="60.08" y1="225.09" x2="57.28" y2="227.39" class="ax"/>
<line x1="183.89" y1="247.91" x2="180.59" y2="246.81" class="ax"/>
<text x="76.5" y="118.2" class="sun">Sun</text>
<circle cx="78.4" cy="115" r="4.5" fill="#ffbe00" stroke="#d47a00" stroke-width="1.5"/>
<line x1="78.6" y1="115.1" x2="94.5" y2="119.9" stroke="#ff8c00" stroke-width="1.7"/>
<polygon points="97.3,120.8 92.4,121.4 93.5,117.8" fill="#ff8c00"/>
<circle cx="144.8" cy="137.1" r="48.4" fill="url(#sphL)"/>
<path d="M118.9,161.0 L115.6,159.9 L112.4,158.7 L109.4,157.4 L106.7,155.9 L104.2,154.4 L101.9,152.7 L99.9,150.9 L98.2,149.1 L96.8,147.2 L95.7,145.2 L95.0,143.2 L94.5,141.2 L94.4,139.1 L94.5,137.1 L95.1,135.1 L95.9,133.0 L97.0,131.1 L98.5,129.2 L100.2,127.3 L102.2,125.5 L104.5,123.9 L107.1,122.3 L109.8,120.8 L112.8,119.5 L116.1,118.3 L119.4,117.2 L123.0,116.3 L126.6,115.5 L130.4,114.8 L134.3,114.4 L138.2,114.1 L142.2,114.0 L146.1,114.0 L150.1,114.2 L153.9,114.6 L157.8,115.1 L161.5,115.8 L165.1,116.6 L168.5,117.6 L171.8,118.8Z" fill="url(#l37)"/>
<path d="M118.9,160.5 L115.5,159.5 L112.4,158.3 L109.4,156.9 L106.6,155.5 L104.1,153.9 L101.9,152.2 L99.9,150.5 L98.2,148.6 L96.8,146.7 L95.7,144.7 L94.9,142.7 L94.4,140.7 L94.3,138.7 L94.5,136.6 L95.0,134.6 L95.8,132.6 L97.0,130.6 L98.4,128.7 L100.1,126.8 L102.2,125.1 L104.5,123.4 L107.0,121.8 L109.8,120.3 L112.8,119.0 L116.0,117.8 L119.4,116.7 L122.9,115.8 L126.6,115.0 L130.4,114.4 L134.3,113.9 L138.2,113.6 L142.1,113.5 L146.1,113.5 L150.0,113.7 L153.9,114.1 L157.7,114.6 L161.5,115.3 L165.1,116.1 L168.5,117.1 L171.8,118.3Z" fill="url(#l36)"/>
<path d="M118.9,160.1 L115.5,159.0 L112.3,157.8 L109.3,156.5 L106.6,155.0 L104.1,153.4 L101.8,151.8 L99.8,150.0 L98.1,148.1 L96.7,146.2 L95.6,144.3 L94.8,142.3 L94.4,140.2 L94.2,138.2 L94.4,136.1 L94.9,134.1 L95.8,132.1 L96.9,130.1 L98.3,128.2 L100.1,126.3 L102.1,124.6 L104.4,122.9 L107.0,121.3 L109.7,119.8 L112.8,118.5 L116.0,117.3 L119.4,116.2 L122.9,115.3 L126.6,114.5 L130.4,113.9 L134.2,113.4 L138.2,113.1 L142.1,113.0 L146.1,113.0 L150.0,113.2 L153.9,113.6 L157.7,114.1 L161.5,114.8 L165.0,115.6 L168.5,116.6 L171.8,117.8Z" fill="url(#l35)"/>
<path d="M118.8,159.6 L115.5,158.5 L112.3,157.3 L109.3,156.0 L106.5,154.5 L104.0,153.0 L101.7,151.3 L99.8,149.5 L98.1,147.7 L96.7,145.8 L95.6,143.8 L94.8,141.8 L94.3,139.7 L94.2,137.7 L94.4,135.6 L94.9,133.6 L95.7,131.6 L96.8,129.6 L98.3,127.7 L100.0,125.9 L102.1,124.1 L104.4,122.4 L106.9,120.8 L109.7,119.3 L112.7,118.0 L115.9,116.8 L119.3,115.7 L122.9,114.8 L126.5,114.0 L130.3,113.4 L134.2,112.9 L138.1,112.6 L142.1,112.5 L146.1,112.5 L150.0,112.7 L153.9,113.1 L157.7,113.6 L161.4,114.3 L165.0,115.1 L168.5,116.1 L171.8,117.3Z" fill="url(#l34)"/>
<path d="M118.8,159.2 L115.4,158.1 L112.2,156.9 L109.2,155.5 L106.5,154.1 L104.0,152.5 L101.7,150.8 L99.7,149.0 L98.0,147.2 L96.6,145.3 L95.5,143.3 L94.7,141.3 L94.3,139.3 L94.1,137.2 L94.3,135.2 L94.8,133.1 L95.7,131.1 L96.8,129.1 L98.2,127.2 L100.0,125.4 L102.0,123.6 L104.3,121.9 L106.9,120.3 L109.7,118.9 L112.7,117.5 L115.9,116.3 L119.3,115.2 L122.8,114.3 L126.5,113.5 L130.3,112.9 L134.2,112.4 L138.1,112.1 L142.1,112.0 L146.0,112.0 L150.0,112.2 L153.9,112.6 L157.7,113.1 L161.4,113.8 L165.0,114.6 L168.5,115.6 L171.8,116.8Z" fill="url(#l33)"/>
<path d="M118.7,158.7 L115.4,157.6 L112.2,156.4 L109.2,155.1 L106.4,153.6 L103.9,152.0 L101.7,150.3 L99.7,148.6 L98.0,146.7 L96.6,144.8 L95.5,142.8 L94.7,140.8 L94.2,138.8 L94.1,136.7 L94.3,134.7 L94.8,132.6 L95.6,130.6 L96.7,128.7 L98.2,126.7 L99.9,124.9 L102.0,123.1 L104.3,121.4 L106.8,119.8 L109.6,118.4 L112.6,117.0 L115.8,115.8 L119.2,114.7 L122.8,113.8 L126.5,113.0 L130.3,112.4 L134.2,111.9 L138.1,111.6 L142.1,111.5 L146.0,111.5 L150.0,111.7 L153.9,112.1 L157.7,112.6 L161.4,113.3 L165.0,114.1 L168.5,115.1 L171.8,116.3Z" fill="url(#l32)"/>
<path d="M118.7,158.2 L115.3,157.2 L112.1,155.9 L109.2,154.6 L106.4,153.1 L103.9,151.6 L101.6,149.9 L99.6,148.1 L97.9,146.3 L96.5,144.3 L95.4,142.4 L94.6,140.4 L94.2,138.3 L94.0,136.3 L94.2,134.2 L94.7,132.2 L95.6,130.2 L96.7,128.2 L98.1,126.3 L99.9,124.4 L101.9,122.6 L104.2,120.9 L106.8,119.3 L109.6,117.9 L112.6,116.5 L115.8,115.3 L119.2,114.2 L122.8,113.3 L126.5,112.5 L130.2,111.9 L134.1,111.4 L138.1,111.1 L142.0,111.0 L146.0,111.0 L150.0,111.2 L153.9,111.6 L157.7,112.1 L161.4,112.8 L165.0,113.7 L168.5,114.7 L171.8,115.8Z" fill="url(#l31)"/>
<path d="M118.7,157.8 L115.3,156.7 L112.1,155.5 L109.1,154.1 L106.3,152.7 L103.8,151.1 L101.6,149.4 L99.6,147.6 L97.9,145.8 L96.5,143.9 L95.4,141.9 L94.6,139.9 L94.1,137.8 L94.0,135.8 L94.2,133.7 L94.7,131.7 L95.5,129.7 L96.6,127.7 L98.1,125.8 L99.8,123.9 L101.9,122.1 L104.2,120.4 L106.7,118.9 L109.5,117.4 L112.6,116.0 L115.8,114.8 L119.2,113.7 L122.7,112.8 L126.4,112.0 L130.2,111.4 L134.1,110.9 L138.0,110.6 L142.0,110.5 L146.0,110.5 L149.9,110.7 L153.8,111.1 L157.7,111.6 L161.4,112.3 L165.0,113.2 L168.5,114.2 L171.8,115.3Z" fill="url(#l30)"/>
<path d="M118.6,157.3 L115.3,156.2 L112.1,155.0 L109.1,153.7 L106.3,152.2 L103.8,150.6 L101.5,148.9 L99.5,147.2 L97.8,145.3 L96.4,143.4 L95.3,141.4 L94.5,139.4 L94.1,137.4 L93.9,135.3 L94.1,133.2 L94.6,131.2 L95.5,129.2 L96.6,127.2 L98.1,125.3 L99.8,123.4 L101.8,121.7 L104.1,120.0 L106.7,118.4 L109.5,116.9 L112.5,115.5 L115.7,114.3 L119.1,113.2 L122.7,112.3 L126.4,111.5 L130.2,110.9 L134.1,110.4 L138.0,110.1 L142.0,110.0 L146.0,110.0 L149.9,110.2 L153.8,110.6 L157.7,111.1 L161.4,111.8 L165.0,112.7 L168.5,113.7 L171.7,114.8Z" fill="url(#l29)"/>
<path d="M118.6,156.8 L115.2,155.7 L112.0,154.5 L109.0,153.2 L106.3,151.7 L103.7,150.1 L101.5,148.5 L99.5,146.7 L97.8,144.8 L96.4,142.9 L95.3,140.9 L94.5,138.9 L94.0,136.9 L93.9,134.8 L94.1,132.8 L94.6,130.7 L95.4,128.7 L96.6,126.7 L98.0,124.8 L99.8,122.9 L101.8,121.2 L104.1,119.5 L106.7,117.9 L109.5,116.4 L112.5,115.1 L115.7,113.8 L119.1,112.8 L122.7,111.8 L126.4,111.0 L130.2,110.4 L134.1,109.9 L138.0,109.6 L142.0,109.5 L145.9,109.5 L149.9,109.7 L153.8,110.1 L157.6,110.6 L161.4,111.3 L165.0,112.2 L168.4,113.2 L171.7,114.3Z" fill="url(#l28)"/>
<path d="M118.6,156.3 L115.2,155.3 L112.0,154.1 L109.0,152.7 L106.2,151.2 L103.7,149.7 L101.4,148.0 L99.5,146.2 L97.8,144.4 L96.3,142.4 L95.2,140.5 L94.5,138.4 L94.0,136.4 L93.9,134.3 L94.1,132.3 L94.6,130.2 L95.4,128.2 L96.5,126.2 L98.0,124.3 L99.7,122.5 L101.8,120.7 L104.1,119.0 L106.6,117.4 L109.4,115.9 L112.5,114.6 L115.7,113.4 L119.1,112.3 L122.6,111.3 L126.3,110.5 L130.1,109.9 L134.0,109.5 L138.0,109.2 L141.9,109.0 L145.9,109.1 L149.9,109.3 L153.8,109.6 L157.6,110.2 L161.4,110.9 L165.0,111.7 L168.4,112.7 L171.7,113.8Z" fill="url(#l27)"/>
<path d="M118.5,155.9 L115.2,154.8 L112.0,153.6 L109.0,152.2 L106.2,150.8 L103.7,149.2 L101.4,147.5 L99.4,145.7 L97.7,143.9 L96.3,142.0 L95.2,140.0 L94.4,138.0 L94.0,135.9 L93.8,133.9 L94.0,131.8 L94.5,129.8 L95.4,127.7 L96.5,125.8 L98.0,123.8 L99.7,122.0 L101.7,120.2 L104.0,118.5 L106.6,116.9 L109.4,115.4 L112.4,114.1 L115.7,112.9 L119.1,111.8 L122.6,110.9 L126.3,110.1 L130.1,109.4 L134.0,109.0 L137.9,108.7 L141.9,108.5 L145.9,108.6 L149.9,108.8 L153.8,109.1 L157.6,109.7 L161.3,110.4 L165.0,111.2 L168.4,112.2 L171.7,113.4Z" fill="url(#l26)"/>
<path d="M118.5,155.4 L115.1,154.3 L111.9,153.1 L109.0,151.8 L106.2,150.3 L103.7,148.7 L101.4,147.0 L99.4,145.3 L97.7,143.4 L96.3,141.5 L95.2,139.5 L94.4,137.5 L93.9,135.4 L93.8,133.4 L94.0,131.3 L94.5,129.3 L95.3,127.3 L96.5,125.3 L97.9,123.4 L99.7,121.5 L101.7,119.7 L104.0,118.0 L106.6,116.4 L109.4,115.0 L112.4,113.6 L115.6,112.4 L119.0,111.3 L122.6,110.4 L126.3,109.6 L130.1,109.0 L134.0,108.5 L137.9,108.2 L141.9,108.1 L145.9,108.1 L149.8,108.3 L153.8,108.7 L157.6,109.2 L161.3,109.9 L164.9,110.7 L168.4,111.7 L171.7,112.9Z" fill="url(#l25)"/>
<path d="M118.5,154.9 L115.1,153.8 L111.9,152.6 L108.9,151.3 L106.2,149.8 L103.6,148.2 L101.4,146.6 L99.4,144.8 L97.7,142.9 L96.3,141.0 L95.2,139.0 L94.4,137.0 L93.9,135.0 L93.8,132.9 L94.0,130.9 L94.5,128.8 L95.3,126.8 L96.5,124.8 L97.9,122.9 L99.7,121.0 L101.7,119.2 L104.0,117.6 L106.6,116.0 L109.4,114.5 L112.4,113.1 L115.6,111.9 L119.0,110.8 L122.6,109.9 L126.3,109.1 L130.1,108.5 L134.0,108.0 L137.9,107.7 L141.9,107.6 L145.9,107.6 L149.8,107.8 L153.7,108.2 L157.6,108.7 L161.3,109.4 L164.9,110.3 L168.4,111.3 L171.7,112.4Z" fill="url(#l24)"/>
<path d="M118.5,154.4 L115.1,153.4 L111.9,152.1 L108.9,150.8 L106.2,149.3 L103.6,147.8 L101.4,146.1 L99.4,144.3 L97.7,142.4 L96.3,140.5 L95.2,138.6 L94.4,136.5 L93.9,134.5 L93.8,132.4 L94.0,130.4 L94.5,128.3 L95.3,126.3 L96.4,124.3 L97.9,122.4 L99.6,120.6 L101.7,118.8 L104.0,117.1 L106.5,115.5 L109.3,114.0 L112.4,112.7 L115.6,111.4 L119.0,110.4 L122.6,109.4 L126.3,108.6 L130.1,108.0 L133.9,107.5 L137.9,107.2 L141.9,107.1 L145.8,107.1 L149.8,107.3 L153.7,107.7 L157.5,108.2 L161.3,108.9 L164.9,109.8 L168.4,110.8 L171.6,111.9Z" fill="url(#l23)"/>
<path d="M118.5,154.0 L115.1,152.9 L111.9,151.7 L108.9,150.3 L106.1,148.9 L103.6,147.3 L101.4,145.6 L99.4,143.8 L97.7,142.0 L96.2,140.0 L95.1,138.1 L94.4,136.1 L93.9,134.0 L93.8,132.0 L94.0,129.9 L94.5,127.9 L95.3,125.8 L96.4,123.9 L97.9,121.9 L99.6,120.1 L101.7,118.3 L104.0,116.6 L106.5,115.0 L109.3,113.5 L112.4,112.2 L115.6,111.0 L119.0,109.9 L122.5,108.9 L126.2,108.2 L130.0,107.5 L133.9,107.1 L137.9,106.8 L141.8,106.6 L145.8,106.7 L149.8,106.9 L153.7,107.2 L157.5,107.8 L161.3,108.5 L164.9,109.3 L168.3,110.3 L171.6,111.5Z" fill="url(#l22)"/>
<path d="M118.5,153.5 L115.1,152.4 L111.9,151.2 L108.9,149.8 L106.1,148.4 L103.6,146.8 L101.3,145.1 L99.4,143.3 L97.7,141.5 L96.2,139.6 L95.1,137.6 L94.4,135.6 L93.9,133.5 L93.8,131.5 L94.0,129.4 L94.5,127.4 L95.3,125.4 L96.4,123.4 L97.9,121.5 L99.6,119.6 L101.7,117.8 L104.0,116.1 L106.5,114.5 L109.3,113.1 L112.4,111.7 L115.6,110.5 L119.0,109.4 L122.5,108.5 L126.2,107.7 L130.0,107.1 L133.9,106.6 L137.9,106.3 L141.8,106.2 L145.8,106.2 L149.8,106.4 L153.7,106.8 L157.5,107.3 L161.2,108.0 L164.8,108.8 L168.3,109.8 L171.6,111.0Z" fill="url(#l21)"/>
<path d="M118.5,153.0 L115.1,151.9 L111.9,150.7 L108.9,149.4 L106.1,147.9 L103.6,146.3 L101.3,144.6 L99.4,142.9 L97.7,141.0 L96.2,139.1 L95.2,137.1 L94.4,135.1 L93.9,133.1 L93.8,131.0 L94.0,128.9 L94.5,126.9 L95.3,124.9 L96.4,122.9 L97.9,121.0 L99.6,119.1 L101.7,117.4 L104.0,115.7 L106.5,114.1 L109.3,112.6 L112.3,111.2 L115.6,110.0 L119.0,108.9 L122.5,108.0 L126.2,107.2 L130.0,106.6 L133.9,106.1 L137.8,105.8 L141.8,105.7 L145.8,105.7 L149.7,105.9 L153.6,106.3 L157.5,106.8 L161.2,107.5 L164.8,108.4 L168.3,109.4 L171.6,110.5Z" fill="url(#l20)"/>
<path d="M118.5,152.5 L115.1,151.4 L111.9,150.2 L108.9,148.9 L106.1,147.4 L103.6,145.8 L101.4,144.1 L99.4,142.4 L97.7,140.5 L96.3,138.6 L95.2,136.6 L94.4,134.6 L93.9,132.6 L93.8,130.5 L94.0,128.5 L94.5,126.4 L95.3,124.4 L96.4,122.4 L97.9,120.5 L99.6,118.7 L101.7,116.9 L104.0,115.2 L106.5,113.6 L109.3,112.1 L112.3,110.8 L115.6,109.6 L119.0,108.5 L122.5,107.5 L126.2,106.8 L130.0,106.1 L133.9,105.7 L137.8,105.4 L141.8,105.2 L145.8,105.3 L149.7,105.5 L153.6,105.8 L157.4,106.4 L161.2,107.1 L164.8,107.9 L168.2,108.9 L171.5,110.1Z" fill="url(#l19)"/>
<path d="M118.5,152.0 L115.1,150.9 L111.9,149.7 L108.9,148.4 L106.1,146.9 L103.6,145.3 L101.4,143.7 L99.4,141.9 L97.7,140.0 L96.3,138.1 L95.2,136.1 L94.4,134.1 L93.9,132.1 L93.8,130.0 L94.0,128.0 L94.5,126.0 L95.3,123.9 L96.5,122.0 L97.9,120.0 L99.7,118.2 L101.7,116.4 L104.0,114.7 L106.5,113.1 L109.3,111.7 L112.3,110.3 L115.6,109.1 L119.0,108.0 L122.5,107.1 L126.2,106.3 L130.0,105.7 L133.9,105.2 L137.8,104.9 L141.8,104.8 L145.7,104.8 L149.7,105.0 L153.6,105.4 L157.4,105.9 L161.1,106.6 L164.7,107.5 L168.2,108.4 L171.5,109.6Z" fill="url(#l18)"/>
<path d="M118.5,151.5 L115.1,150.4 L111.9,149.2 L108.9,147.9 L106.2,146.4 L103.6,144.8 L101.4,143.2 L99.4,141.4 L97.7,139.5 L96.3,137.6 L95.2,135.7 L94.4,133.7 L94.0,131.6 L93.8,129.6 L94.0,127.5 L94.5,125.5 L95.3,123.5 L96.5,121.5 L97.9,119.6 L99.7,117.7 L101.7,115.9 L104.0,114.3 L106.5,112.7 L109.3,111.2 L112.4,109.9 L115.6,108.6 L119.0,107.6 L122.5,106.6 L126.2,105.8 L130.0,105.2 L133.9,104.8 L137.8,104.5 L141.7,104.3 L145.7,104.4 L149.7,104.6 L153.6,104.9 L157.4,105.5 L161.1,106.1 L164.7,107.0 L168.2,108.0 L171.4,109.1Z" fill="url(#l17)"/>
<path d="M118.5,151.0 L115.1,149.9 L111.9,148.7 L108.9,147.4 L106.2,145.9 L103.7,144.3 L101.4,142.7 L99.5,140.9 L97.8,139.1 L96.4,137.1 L95.3,135.2 L94.5,133.2 L94.0,131.1 L93.9,129.1 L94.1,127.0 L94.6,125.0 L95.4,123.0 L96.6,121.0 L98.0,119.1 L99.7,117.3 L101.8,115.5 L104.1,113.8 L106.6,112.2 L109.4,110.8 L112.4,109.4 L115.6,108.2 L119.0,107.1 L122.5,106.2 L126.2,105.4 L130.0,104.8 L133.9,104.3 L137.8,104.0 L141.7,103.9 L145.7,103.9 L149.6,104.1 L153.5,104.5 L157.4,105.0 L161.1,105.7 L164.7,106.5 L168.1,107.5 L171.4,108.7Z" fill="url(#l16)"/>
<path d="M118.5,150.5 L115.1,149.4 L112.0,148.2 L109.0,146.9 L106.2,145.4 L103.7,143.8 L101.5,142.2 L99.5,140.4 L97.8,138.6 L96.4,136.7 L95.4,134.7 L94.6,132.7 L94.1,130.7 L94.0,128.6 L94.2,126.6 L94.7,124.5 L95.5,122.5 L96.7,120.6 L98.1,118.7 L99.8,116.8 L101.9,115.1 L104.1,113.4 L106.7,111.8 L109.5,110.3 L112.5,109.0 L115.7,107.8 L119.0,106.7 L122.6,105.8 L126.2,105.0 L130.0,104.4 L133.9,103.9 L137.8,103.6 L141.7,103.5 L145.7,103.5 L149.6,103.7 L153.5,104.0 L157.3,104.6 L161.0,105.3 L164.6,106.1 L168.1,107.1 L171.3,108.2Z" fill="url(#l15)"/>
<path d="M118.5,150.0 L115.1,148.9 L112.0,147.7 L109.0,146.4 L106.3,144.9 L103.8,143.3 L101.6,141.7 L99.6,139.9 L97.9,138.1 L96.5,136.2 L95.4,134.2 L94.7,132.2 L94.2,130.2 L94.1,128.2 L94.3,126.1 L94.8,124.1 L95.6,122.1 L96.8,120.1 L98.2,118.2 L99.9,116.4 L101.9,114.6 L104.2,112.9 L106.8,111.4 L109.5,109.9 L112.5,108.6 L115.7,107.3 L119.1,106.3 L122.6,105.3 L126.3,104.6 L130.0,103.9 L133.9,103.5 L137.8,103.2 L141.7,103.0 L145.7,103.1 L149.6,103.3 L153.5,103.6 L157.3,104.1 L161.0,104.8 L164.6,105.7 L168.0,106.6 L171.3,107.8Z" fill="url(#l14)"/>
<path d="M118.5,149.5 L115.2,148.4 L112.0,147.2 L109.1,145.9 L106.3,144.4 L103.9,142.8 L101.6,141.2 L99.7,139.4 L98.0,137.6 L96.6,135.7 L95.5,133.7 L94.8,131.7 L94.3,129.7 L94.2,127.7 L94.4,125.6 L94.9,123.6 L95.7,121.6 L96.9,119.7 L98.3,117.8 L100.0,115.9 L102.0,114.2 L104.3,112.5 L106.9,110.9 L109.6,109.5 L112.6,108.1 L115.8,106.9 L119.2,105.8 L122.7,104.9 L126.3,104.1 L130.1,103.5 L133.9,103.0 L137.8,102.7 L141.7,102.6 L145.7,102.6 L149.6,102.8 L153.5,103.2 L157.3,103.7 L161.0,104.4 L164.5,105.2 L168.0,106.2 L171.2,107.3Z" fill="url(#l13)"/>
<path d="M118.5,149.0 L115.2,147.9 L112.1,146.7 L109.1,145.4 L106.4,143.9 L103.9,142.3 L101.7,140.7 L99.8,138.9 L98.1,137.1 L96.7,135.2 L95.6,133.2 L94.9,131.3 L94.4,129.2 L94.3,127.2 L94.5,125.2 L95.0,123.2 L95.8,121.2 L97.0,119.2 L98.4,117.3 L100.1,115.5 L102.1,113.7 L104.4,112.1 L106.9,110.5 L109.7,109.0 L112.7,107.7 L115.9,106.5 L119.2,105.4 L122.7,104.5 L126.4,103.7 L130.1,103.1 L133.9,102.6 L137.8,102.3 L141.7,102.2 L145.7,102.2 L149.6,102.4 L153.4,102.8 L157.2,103.3 L160.9,103.9 L164.5,104.8 L167.9,105.8 L171.2,106.9Z" fill="url(#l12)"/>
<path d="M118.5,148.5 L115.2,147.4 L112.1,146.2 L109.2,144.9 L106.5,143.4 L104.0,141.8 L101.8,140.2 L99.8,138.4 L98.2,136.6 L96.8,134.7 L95.8,132.8 L95.0,130.8 L94.6,128.8 L94.4,126.7 L94.6,124.7 L95.1,122.7 L96.0,120.7 L97.1,118.8 L98.5,116.9 L100.2,115.1 L102.2,113.3 L104.5,111.6 L107.0,110.1 L109.8,108.6 L112.8,107.3 L115.9,106.1 L119.3,105.0 L122.8,104.1 L126.4,103.3 L130.1,102.7 L134.0,102.2 L137.8,101.9 L141.7,101.8 L145.7,101.8 L149.6,102.0 L153.4,102.3 L157.2,102.8 L160.9,103.5 L164.4,104.3 L167.9,105.3 L171.1,106.4Z" fill="url(#l11)"/>
<path d="M118.6,147.9 L115.3,146.9 L112.1,145.7 L109.2,144.3 L106.5,142.9 L104.1,141.3 L101.9,139.7 L99.9,137.9 L98.3,136.1 L96.9,134.2 L95.9,132.3 L95.1,130.3 L94.7,128.3 L94.6,126.3 L94.8,124.3 L95.3,122.2 L96.1,120.3 L97.2,118.3 L98.6,116.4 L100.4,114.6 L102.4,112.9 L104.6,111.2 L107.1,109.6 L109.9,108.2 L112.8,106.9 L116.0,105.7 L119.3,104.6 L122.8,103.7 L126.4,102.9 L130.2,102.3 L134.0,101.8 L137.8,101.5 L141.7,101.4 L145.6,101.4 L149.5,101.6 L153.4,101.9 L157.1,102.4 L160.8,103.1 L164.4,103.9 L167.8,104.9 L171.0,106.0Z" fill="url(#l10)"/>
<path d="M118.6,147.4 L115.3,146.4 L112.2,145.2 L109.3,143.8 L106.6,142.4 L104.2,140.8 L102.0,139.2 L100.0,137.4 L98.4,135.6 L97.0,133.7 L96.0,131.8 L95.2,129.8 L94.8,127.8 L94.7,125.8 L94.9,123.8 L95.4,121.8 L96.2,119.8 L97.3,117.9 L98.8,116.0 L100.5,114.2 L102.5,112.4 L104.7,110.8 L107.2,109.2 L110.0,107.8 L112.9,106.4 L116.1,105.2 L119.4,104.2 L122.9,103.3 L126.5,102.5 L130.2,101.9 L134.0,101.4 L137.9,101.1 L141.7,100.9 L145.6,101.0 L149.5,101.2 L153.3,101.5 L157.1,102.0 L160.8,102.7 L164.3,103.5 L167.7,104.4 L171.0,105.5Z" fill="url(#l9)"/>
<path d="M118.6,146.9 L115.3,145.8 L112.2,144.6 L109.4,143.3 L106.7,141.9 L104.2,140.3 L102.1,138.7 L100.1,136.9 L98.5,135.1 L97.2,133.2 L96.1,131.3 L95.4,129.3 L94.9,127.3 L94.8,125.3 L95.0,123.3 L95.5,121.3 L96.3,119.4 L97.5,117.4 L98.9,115.5 L100.6,113.7 L102.6,112.0 L104.8,110.3 L107.3,108.8 L110.1,107.4 L113.0,106.0 L116.1,104.8 L119.5,103.8 L122.9,102.8 L126.5,102.1 L130.2,101.5 L134.0,101.0 L137.9,100.7 L141.7,100.5 L145.6,100.6 L149.5,100.7 L153.3,101.1 L157.1,101.6 L160.7,102.2 L164.3,103.0 L167.7,104.0 L170.9,105.1Z" fill="url(#l8)"/>
<path d="M118.6,146.4 L115.4,145.3 L112.3,144.1 L109.4,142.8 L106.8,141.4 L104.3,139.8 L102.2,138.2 L100.2,136.4 L98.6,134.6 L97.3,132.7 L96.2,130.8 L95.5,128.9 L95.1,126.9 L95.0,124.9 L95.2,122.9 L95.7,120.9 L96.5,118.9 L97.6,117.0 L99.0,115.1 L100.7,113.3 L102.7,111.6 L104.9,109.9 L107.4,108.4 L110.2,106.9 L113.1,105.6 L116.2,104.4 L119.5,103.4 L123.0,102.4 L126.6,101.7 L130.3,101.0 L134.0,100.6 L137.9,100.3 L141.7,100.1 L145.6,100.1 L149.5,100.3 L153.3,100.7 L157.0,101.2 L160.7,101.8 L164.2,102.6 L167.6,103.6 L170.8,104.7Z" fill="url(#l7)"/>
<path d="M118.7,145.9 L115.4,144.8 L112.4,143.6 L109.5,142.3 L106.8,140.8 L104.4,139.3 L102.3,137.7 L100.4,135.9 L98.7,134.1 L97.4,132.2 L96.4,130.3 L95.6,128.4 L95.2,126.4 L95.1,124.4 L95.3,122.4 L95.8,120.4 L96.6,118.5 L97.7,116.5 L99.2,114.7 L100.9,112.9 L102.8,111.1 L105.1,109.5 L107.5,108.0 L110.3,106.5 L113.2,105.2 L116.3,104.0 L119.6,103.0 L123.1,102.0 L126.6,101.3 L130.3,100.6 L134.1,100.2 L137.9,99.9 L141.7,99.7 L145.6,99.7 L149.5,99.9 L153.3,100.3 L157.0,100.7 L160.6,101.4 L164.2,102.2 L167.5,103.1 L170.8,104.2Z" fill="url(#l6)"/>
<path d="M118.7,145.4 L115.5,144.3 L112.4,143.1 L109.6,141.8 L106.9,140.3 L104.5,138.8 L102.4,137.1 L100.5,135.4 L98.9,133.6 L97.5,131.8 L96.5,129.8 L95.8,127.9 L95.4,125.9 L95.2,123.9 L95.4,121.9 L95.9,119.9 L96.8,118.0 L97.9,116.1 L99.3,114.2 L101.0,112.4 L103.0,110.7 L105.2,109.1 L107.7,107.5 L110.4,106.1 L113.3,104.8 L116.4,103.6 L119.7,102.5 L123.1,101.6 L126.7,100.9 L130.3,100.2 L134.1,99.8 L137.9,99.5 L141.8,99.3 L145.6,99.3 L149.4,99.5 L153.2,99.8 L156.9,100.3 L160.6,101.0 L164.1,101.8 L167.5,102.7 L170.7,103.8Z" fill="url(#l5)"/>
<path d="M118.8,144.8 L115.5,143.8 L112.5,142.6 L109.6,141.2 L107.0,139.8 L104.6,138.3 L102.5,136.6 L100.6,134.9 L99.0,133.1 L97.7,131.3 L96.6,129.4 L95.9,127.4 L95.5,125.4 L95.4,123.4 L95.6,121.5 L96.1,119.5 L96.9,117.5 L98.0,115.6 L99.4,113.8 L101.1,112.0 L103.1,110.3 L105.3,108.6 L107.8,107.1 L110.5,105.7 L113.4,104.4 L116.5,103.2 L119.8,102.1 L123.2,101.2 L126.7,100.5 L130.4,99.8 L134.1,99.4 L137.9,99.1 L141.8,98.9 L145.6,98.9 L149.4,99.1 L153.2,99.4 L156.9,99.9 L160.5,100.6 L164.0,101.4 L167.4,102.3 L170.6,103.4Z" fill="url(#l4)"/>
<path d="M118.8,144.3 L115.6,143.2 L112.5,142.0 L109.7,140.7 L107.1,139.3 L104.7,137.8 L102.6,136.1 L100.7,134.4 L99.1,132.6 L97.8,130.8 L96.8,128.9 L96.1,126.9 L95.6,125.0 L95.5,123.0 L95.7,121.0 L96.2,119.0 L97.1,117.1 L98.2,115.2 L99.6,113.3 L101.3,111.6 L103.2,109.9 L105.4,108.2 L107.9,106.7 L110.6,105.3 L113.5,104.0 L116.6,102.8 L119.8,101.7 L123.2,100.8 L126.8,100.1 L130.4,99.4 L134.2,99.0 L137.9,98.7 L141.8,98.5 L145.6,98.5 L149.4,98.7 L153.2,99.0 L156.9,99.5 L160.5,100.1 L164.0,100.9 L167.3,101.9 L170.5,102.9Z" fill="url(#l3)"/>
<path d="M118.8,143.8 L115.6,142.7 L112.6,141.5 L109.8,140.2 L107.2,138.8 L104.8,137.2 L102.7,135.6 L100.8,133.9 L99.2,132.1 L97.9,130.3 L96.9,128.4 L96.2,126.4 L95.8,124.5 L95.7,122.5 L95.9,120.5 L96.4,118.6 L97.2,116.6 L98.3,114.8 L99.7,112.9 L101.4,111.1 L103.3,109.4 L105.6,107.8 L108.0,106.3 L110.7,104.9 L113.6,103.6 L116.7,102.4 L119.9,101.3 L123.3,100.4 L126.8,99.7 L130.5,99.0 L134.2,98.6 L138.0,98.3 L141.8,98.1 L145.6,98.1 L149.4,98.3 L153.1,98.6 L156.8,99.1 L160.4,99.7 L163.9,100.5 L167.3,101.4 L170.5,102.5Z" fill="url(#l2)"/>
<path d="M118.9,143.3 L115.7,142.2 L112.7,141.0 L109.9,139.7 L107.3,138.3 L104.9,136.7 L102.8,135.1 L100.9,133.4 L99.4,131.6 L98.1,129.8 L97.1,127.9 L96.3,126.0 L95.9,124.0 L95.8,122.0 L96.0,120.1 L96.5,118.1 L97.4,116.2 L98.5,114.3 L99.9,112.5 L101.5,110.7 L103.5,109.0 L105.7,107.4 L108.1,105.9 L110.8,104.4 L113.7,103.1 L116.7,102.0 L120.0,100.9 L123.4,100.0 L126.9,99.3 L130.5,98.6 L134.2,98.2 L138.0,97.9 L141.8,97.7 L145.6,97.7 L149.3,97.9 L153.1,98.2 L156.8,98.7 L160.4,99.3 L163.8,100.1 L167.2,101.0 L170.4,102.1Z" fill="url(#l1)"/>
<path d="M118.9,142.7 L115.7,141.7 L112.7,140.5 L109.9,139.2 L107.4,137.7 L105.0,136.2 L102.9,134.6 L101.1,132.9 L99.5,131.1 L98.2,129.3 L97.2,127.4 L96.5,125.5 L96.1,123.5 L96.0,121.6 L96.2,119.6 L96.7,117.7 L97.5,115.7 L98.6,113.9 L100.0,112.0 L101.7,110.3 L103.6,108.6 L105.8,107.0 L108.2,105.4 L110.9,104.0 L113.8,102.7 L116.8,101.6 L120.1,100.5 L123.4,99.6 L126.9,98.9 L130.5,98.2 L134.2,97.8 L138.0,97.5 L141.8,97.3 L145.6,97.3 L149.3,97.5 L153.1,97.8 L156.7,98.3 L160.3,98.9 L163.8,99.7 L167.1,100.6 L170.3,101.6Z" fill="url(#topL)"/>
<polygon clip-path="url(#clipTop)" points="144.6,116.1 133.0,112.2 100.7,138.1 112.3,141.9" fill="url(#fadeL)"/>
<ellipse cx="147.7" cy="138.1" rx="6.7" ry="8.5" fill="url(#smL)"/>
<g clip-path="url(#clipSmL)">
<path d="M140,130.5 Q147,130.9 156,128.3 L156,129.6 Q147,132.2 140,131.8 Z" fill="#40a8cc"/>
<path d="M140,131.8 Q147,132.2 156,129.6 L156,130.6 Q147,133.2 140,132.8 Z" fill="#c0bc58"/>
<path d="M140,132.8 Q147,133.2 156,130.6 L156,131.6 Q147,134.2 140,133.8 Z" fill="#dc8838"/>
<path d="M140,133.8 Q147,134.2 156,131.6 L156,132.8 Q147,135.4 140,135.0 Z" fill="#cc3c2c"/>
<path d="M140,135.0 Q147,135.4 156,132.8 L156,134.0 Q147,136.6 140,136.2 Z" fill="#8c2858"/>
<path d="M140,136.2 Q147,136.6 156,134.0 L156,134.9 Q147,137.5 140,137.1 Z" fill="#583496"/>
</g>
<circle cx="144.8" cy="137.1" r="48.4" fill="url(#sphL)"/>
<text x="27.60" y="108.55" class="tk" text-anchor="end">50</text>
<text x="27.60" y="150.80" class="tk" text-anchor="end">0</text>
<text x="27.60" y="192.80" class="tk" text-anchor="end">-50</text>
<text x="48.75" y="239.30" class="tk" text-anchor="middle">50</text>
<text x="93.00" y="253.05" class="tk" text-anchor="middle">0</text>
<text x="130.50" y="267.05" class="tk" text-anchor="middle">-50</text>
<text x="196.25" y="260.05" class="tk" text-anchor="middle">50</text>
<text x="220.00" y="238.80" class="tk" text-anchor="middle">0</text>
<text x="251.75" y="217.05" class="tk" text-anchor="middle">-50</text>
<text x="87.60" y="273.70" class="al" text-anchor="middle">X (km)</text>
<text x="236.70" y="271.00" class="al" text-anchor="middle">Y (km)</text>
<text transform="translate(10.4,149.2) rotate(-90)" class="al" text-anchor="middle">Z (km)</text>
<text x="145.00" y="9.90" class="ttl" text-anchor="middle">Feasible Solution Set</text>
<rect x="305.0" y="13.0" width="16.0" height="248.0" fill="url(#cbL)" stroke="#3a3a3a" stroke-width="0.5"/>
<line x1="318.80" y1="241.30" x2="321.00" y2="241.30" class="ax"/>
<text x="324.40" y="244.30" class="tk" text-anchor="start">1</text>
<line x1="318.80" y1="215.21" x2="321.00" y2="215.21" class="ax"/>
<text x="324.40" y="218.21" class="tk" text-anchor="start">2</text>
<line x1="318.80" y1="189.12" x2="321.00" y2="189.12" class="ax"/>
<text x="324.40" y="192.12" class="tk" text-anchor="start">3</text>
<line x1="318.80" y1="163.03" x2="321.00" y2="163.03" class="ax"/>
<text x="324.40" y="166.03" class="tk" text-anchor="start">4</text>
<line x1="318.80" y1="136.93" x2="321.00" y2="136.93" class="ax"/>
<text x="324.40" y="139.93" class="tk" text-anchor="start">5</text>
<line x1="318.80" y1="110.84" x2="321.00" y2="110.84" class="ax"/>
<text x="324.40" y="113.84" class="tk" text-anchor="start">6</text>
<line x1="318.80" y1="84.75" x2="321.00" y2="84.75" class="ax"/>
<text x="324.40" y="87.75" class="tk" text-anchor="start">7</text>
<line x1="318.80" y1="58.66" x2="321.00" y2="58.66" class="ax"/>
<text x="324.40" y="61.66" class="tk" text-anchor="start">8</text>
<line x1="318.80" y1="32.57" x2="321.00" y2="32.57" class="ax"/>
<text x="324.40" y="35.57" class="tk" text-anchor="start">9</text>
<text transform="translate(344.5,137.0) rotate(-90)" class="al" style="font-size:11.8px" text-anchor="middle">Δv (m/s)</text>
<rect x="163.7" y="24.1" width="117.6" height="46.9" fill="#fff" stroke="#3c3c3c" stroke-width="0.6"/>
<rect x="167.3" y="28.4" width="29.3" height="7.1" fill="#8080ff"/>
<rect x="167.3" y="39.1" width="29.3" height="7.1" fill="#e6e6ff"/>
<circle cx="181.9" cy="53.3" r="2.5" fill="#ff8c00"/>
<line x1="167.3" y1="64.5" x2="189.2" y2="64.5" stroke="#ff8c00" stroke-width="2.2"/>
<polygon points="197.1,64.5 186.1,61.4 186.1,67.6" fill="#ff8c00"/>
<text x="198.9" y="35.03" style="font-size:8.70px" class="lg">r=10km Boundary</text>
<text x="198.9" y="45.73" style="font-size:8.70px" class="lg">r=50km Boundary</text>
<text x="198.9" y="56.43" style="font-size:8.70px" class="lg">Manoeuvre Solution</text>
<text x="198.9" y="67.63" style="font-size:8.70px" class="lg">Sun Vector Direction</text>
<line x1="398.90" y1="18.75" x2="604.70" y2="18.75" class="g"/>
<line x1="398.90" y1="44.25" x2="604.70" y2="44.25" class="g"/>
<line x1="398.90" y1="70.00" x2="604.70" y2="70.00" class="g"/>
<line x1="398.90" y1="94.75" x2="604.70" y2="94.75" class="g"/>
<line x1="398.90" y1="121.50" x2="604.70" y2="121.50" class="g"/>
<line x1="398.90" y1="146.25" x2="604.70" y2="146.25" class="g"/>
<line x1="398.90" y1="171.75" x2="604.70" y2="171.75" class="g"/>
<line x1="398.90" y1="197.25" x2="604.70" y2="197.25" class="g"/>
<line x1="398.90" y1="221.40" x2="604.70" y2="221.40" class="g"/>
<line x1="437.30" y1="18.75" x2="437.30" y2="221.40" class="g"/>
<line x1="437.30" y1="221.40" x2="439.40" y2="242.40" class="g"/>
<line x1="501.70" y1="18.75" x2="501.70" y2="221.40" class="g"/>
<line x1="501.70" y1="221.40" x2="503.80" y2="242.40" class="g"/>
<line x1="566.10" y1="18.75" x2="566.10" y2="221.40" class="g"/>
<line x1="566.10" y1="221.40" x2="568.20" y2="242.40" class="g"/>
<line x1="604.70" y1="18.75" x2="604.70" y2="221.40" class="g"/>
<line x1="604.70" y1="221.40" x2="606.80" y2="242.40" class="g"/>
<line x1="399.36" y1="226.00" x2="605.16" y2="226.00" class="g"/>
<line x1="400.00" y1="232.40" x2="605.80" y2="232.40" class="g"/>
<line x1="400.62" y1="238.60" x2="606.42" y2="238.60" class="g"/>
<line x1="399.60" y1="19.00" x2="399.60" y2="222.00" class="ax"/>
<line x1="399.60" y1="222.00" x2="400.90" y2="242.40" class="ax"/>
<line x1="400.90" y1="242.40" x2="606.80" y2="242.40" class="ax"/>
<text x="398.20" y="13.90" class="tkR" text-anchor="end">80</text>
<line x1="398.30" y1="14.20" x2="399.60" y2="19.00" class="ax"/>
<text x="398.20" y="39.90" class="tkR" text-anchor="end">60</text>
<line x1="398.30" y1="40.20" x2="399.60" y2="45.00" class="ax"/>
<text x="398.20" y="64.40" class="tkR" text-anchor="end">40</text>
<line x1="398.30" y1="64.70" x2="399.60" y2="69.50" class="ax"/>
<text x="398.20" y="90.65" class="tkR" text-anchor="end">20</text>
<line x1="398.30" y1="90.95" x2="399.60" y2="95.75" class="ax"/>
<text x="398.20" y="116.00" class="tkR" text-anchor="end">0</text>
<line x1="398.30" y1="116.30" x2="399.60" y2="121.10" class="ax"/>
<text x="398.20" y="141.80" class="tkR" text-anchor="end">-20</text>
<line x1="398.30" y1="142.10" x2="399.60" y2="146.90" class="ax"/>
<text x="398.20" y="166.90" class="tkR" text-anchor="end">-40</text>
<line x1="398.30" y1="167.20" x2="399.60" y2="172.00" class="ax"/>
<text x="398.20" y="192.65" class="tkR" text-anchor="end">-60</text>
<line x1="398.30" y1="192.95" x2="399.60" y2="197.75" class="ax"/>
<text x="398.20" y="217.70" class="tkR" text-anchor="end">-80</text>
<line x1="398.30" y1="218.00" x2="399.60" y2="222.80" class="ax"/>
<line x1="439.40" y1="242.40" x2="439.40" y2="247.60" class="ax"/>
<text x="439.40" y="260.20" class="tkR" text-anchor="middle">50</text>
<line x1="503.80" y1="242.40" x2="503.80" y2="247.60" class="ax"/>
<text x="503.80" y="260.20" class="tkR" text-anchor="middle">0</text>
<line x1="567.90" y1="242.40" x2="567.90" y2="247.60" class="ax"/>
<text x="567.90" y="260.20" class="tkR" text-anchor="middle">-50</text>
<text x="497.00" y="268.90" class="alR" text-anchor="middle">Y (km)</text>
<circle cx="502.2" cy="129.5" r="64.6" fill="url(#sphL)"/>
<circle cx="502.8" cy="130.9" r="12.6" fill="url(#smR)" opacity="0.52"/>
<g clip-path="url(#clipBand)">
<rect x="430" y="103.10" width="145" height="0.65" fill="#820000"/>
<rect x="430" y="103.50" width="145" height="0.65" fill="#880000"/>
<rect x="430" y="103.91" width="145" height="0.65" fill="#8e0000"/>
<rect x="430" y="104.31" width="145" height="0.65" fill="#940000"/>
<rect x="430" y="104.71" width="145" height="0.65" fill="#9a0000"/>
<rect x="430" y="105.11" width="145" height="0.65" fill="#a00000"/>
<rect x="430" y="105.52" width="145" height="0.65" fill="#a60000"/>
<rect x="430" y="105.92" width="145" height="0.65" fill="#b30000"/>
<rect x="430" y="106.32" width="145" height="0.65" fill="#c60000"/>
<rect x="430" y="106.72" width="145" height="0.65" fill="#da0000"/>
<rect x="430" y="107.12" width="145" height="0.65" fill="#ed0000"/>
<rect x="430" y="107.53" width="145" height="0.65" fill="#ff0200"/>
<rect x="430" y="107.93" width="145" height="0.65" fill="#ff2500"/>
<rect x="430" y="108.33" width="145" height="0.65" fill="#ff4700"/>
<rect x="430" y="108.73" width="145" height="0.65" fill="#ff6900"/>
<rect x="430" y="109.14" width="145" height="0.65" fill="#ff8a00"/>
<rect x="430" y="109.54" width="145" height="0.65" fill="#ffa800"/>
<rect x="430" y="109.94" width="145" height="0.65" fill="#ffc600"/>
<rect x="430" y="110.34" width="145" height="0.65" fill="#ffe400"/>
<rect x="430" y="110.75" width="145" height="0.65" fill="#fcff03"/>
<rect x="430" y="111.15" width="145" height="0.65" fill="#dfff20"/>
<rect x="430" y="111.55" width="145" height="0.65" fill="#c3ff3c"/>
<rect x="430" y="111.95" width="145" height="0.65" fill="#a6ff59"/>
<rect x="430" y="112.36" width="145" height="0.65" fill="#8aff75"/>
<rect x="430" y="112.76" width="145" height="0.65" fill="#66ff99"/>
<rect x="430" y="113.16" width="145" height="0.65" fill="#3effc1"/>
<rect x="430" y="113.56" width="145" height="0.65" fill="#17ffe8"/>
<rect x="430" y="113.97" width="145" height="0.65" fill="#00efff"/>
<rect x="430" y="114.37" width="145" height="0.65" fill="#00c9ff"/>
<rect x="430" y="114.77" width="145" height="0.65" fill="#00a3ff"/>
<rect x="430" y="115.17" width="145" height="0.65" fill="#007dff"/>
<rect x="430" y="115.58" width="145" height="0.65" fill="#0057ff"/>
<rect x="430" y="115.98" width="145" height="0.65" fill="#0031ff"/>
<rect x="430" y="116.38" width="145" height="0.65" fill="#000bff"/>
<rect x="430" y="116.78" width="145" height="0.65" fill="#0000f5"/>
<rect x="430" y="117.19" width="145" height="0.65" fill="#0000e6"/>
<rect x="430" y="117.59" width="145" height="0.65" fill="#0000d7"/>
<rect x="430" y="117.99" width="145" height="0.65" fill="#0000c9"/>
<rect x="430" y="118.39" width="145" height="0.65" fill="#0000ba"/>
<rect x="430" y="118.80" width="145" height="0.65" fill="#0000ab"/>
<rect x="430" y="119.20" width="145" height="0.65" fill="#00009d"/>
<rect x="430" y="119.60" width="145" height="0.65" fill="#00008e"/>
<rect x="430" y="120.00" width="145" height="0.65" fill="#000080"/>
<rect x="430" y="120.41" width="145" height="0.65" fill="#00008d"/>
<rect x="430" y="120.81" width="145" height="0.65" fill="#00009b"/>
<rect x="430" y="121.21" width="145" height="0.65" fill="#0000a8"/>
<rect x="430" y="121.62" width="145" height="0.65" fill="#0000b6"/>
<rect x="430" y="122.02" width="145" height="0.65" fill="#0000c3"/>
<rect x="430" y="122.42" width="145" height="0.65" fill="#0000d1"/>
<rect x="430" y="122.82" width="145" height="0.65" fill="#0000de"/>
<rect x="430" y="123.23" width="145" height="0.65" fill="#0000ec"/>
<rect x="430" y="123.63" width="145" height="0.65" fill="#0000f9"/>
<rect x="430" y="124.03" width="145" height="0.65" fill="#0021ff"/>
<rect x="430" y="124.43" width="145" height="0.65" fill="#005aff"/>
<rect x="430" y="124.84" width="145" height="0.65" fill="#0093ff"/>
<rect x="430" y="125.24" width="145" height="0.65" fill="#00ccff"/>
<rect x="430" y="125.64" width="145" height="0.65" fill="#04fffb"/>
<rect x="430" y="126.04" width="145" height="0.65" fill="#28ffd7"/>
<rect x="430" y="126.45" width="145" height="0.65" fill="#4dffb2"/>
<rect x="430" y="126.85" width="145" height="0.65" fill="#72ff8d"/>
<rect x="430" y="127.25" width="145" height="0.65" fill="#98ff67"/>
<rect x="430" y="127.65" width="145" height="0.65" fill="#c0ff3f"/>
<rect x="430" y="128.06" width="145" height="0.65" fill="#e7ff18"/>
<rect x="430" y="128.46" width="145" height="0.65" fill="#fff400"/>
<rect x="430" y="128.86" width="145" height="0.65" fill="#ffd900"/>
<rect x="430" y="129.26" width="145" height="0.65" fill="#ffbe00"/>
<rect x="430" y="129.67" width="145" height="0.65" fill="#ffa300"/>
<rect x="430" y="130.07" width="145" height="0.65" fill="#ff8800"/>
<rect x="430" y="130.47" width="145" height="0.65" fill="#ff6b00"/>
<rect x="430" y="130.87" width="145" height="0.65" fill="#ff4d00"/>
<rect x="430" y="131.28" width="145" height="0.65" fill="#ff2f00"/>
<rect x="430" y="131.68" width="145" height="0.65" fill="#ff1100"/>
<rect x="430" y="132.08" width="145" height="0.65" fill="#f70000"/>
<rect x="430" y="132.48" width="145" height="0.65" fill="#e40000"/>
<rect x="430" y="132.89" width="145" height="0.65" fill="#d20000"/>
<rect x="430" y="133.29" width="145" height="0.65" fill="#c00000"/>
<rect x="430" y="133.69" width="145" height="0.65" fill="#ad0000"/>
<rect x="430" y="134.09" width="145" height="0.65" fill="#9f0000"/>
<rect x="430" y="134.50" width="145" height="0.65" fill="#920000"/>
<rect x="430" y="134.90" width="145" height="0.65" fill="#860000"/>
<polygon points="436.0,103.4 437.0,103.1 438.2,103.1 439.6,103.4 440.4,102.9 441.5,103.3 443.3,103.1 444.9,103.1 446.4,103.3 447.8,102.9 449.1,103.0 450.6,103.4 452.2,103.1 453.3,103.4 454.9,103.1 456.5,102.9 458.0,102.9 459.2,103.0 460.4,102.9 462.1,103.3 463.0,103.3 464.8,103.2 466.2,103.2 467.5,103.2 468.7,103.1 470.1,102.9 471.5,102.9 473.2,102.9 474.7,103.3 476.3,102.9 478.0,103.1 479.5,103.3 481.2,103.1 482.3,103.4 483.9,102.9 484.8,103.0 486.0,103.3 487.1,103.0 488.8,103.4 490.2,103.4 491.7,103.2 493.4,102.9 494.7,102.9 495.8,103.4 497.2,103.4 498.2,103.2 499.6,103.3 500.5,102.9 501.6,102.9 503.3,103.2 504.5,103.1 506.0,103.1 507.3,103.1 509.1,103.1 510.3,103.0 511.3,103.2 513.1,103.1 514.5,103.4 515.7,103.1 516.5,103.1 517.9,103.4 519.4,103.1 520.8,103.2 522.3,103.0 523.2,103.4 524.6,102.9 525.7,103.2 527.1,103.2 528.3,103.2 529.4,103.1 530.5,103.2 532.1,103.4 533.5,103.0 534.6,103.3 536.2,103.3 537.2,103.2 538.7,103.3 539.8,103.2 541.4,103.2 543.1,103.3 544.2,103.0 545.9,103.2 546.9,103.3 548.3,103.3 549.9,102.9 550.8,103.2 552.4,103.1 554.1,103.2 555.0,103.2 556.6,103.3 557.7,103.2 558.9,103.2 560.7,103.3 561.5,102.9 563.2,102.9 564.4,102.9 566.1,103.3 567.7,102.9 569.1,103.1 570.2,103.2 570.0,103.4" fill="#800000"/>
<polygon points="436.0,135.2 437.0,135.3 438.4,135.5 440.0,135.2 441.7,135.8 443.5,136.0 445.2,135.7 446.0,135.9 446.9,135.5 448.4,135.7 449.6,136.0 451.0,135.5 452.1,136.0 453.4,135.9 454.5,135.4 455.8,135.9 456.8,135.9 458.5,135.9 460.2,135.2 461.6,136.0 462.4,135.4 463.5,135.7 464.7,135.6 466.3,135.2 467.2,135.3 468.1,135.3 469.9,136.0 470.7,135.7 471.9,135.5 473.0,135.8 474.4,135.5 475.4,135.5 476.3,135.7 477.8,135.5 478.7,135.4 479.9,135.7 481.5,135.5 483.1,135.8 484.3,135.5 485.6,135.8 486.8,135.8 488.1,135.4 489.4,135.8 490.3,135.6 491.5,136.0 493.2,135.5 494.9,135.9 496.0,135.6 496.9,135.9 498.4,136.0 500.0,135.8 501.5,135.7 502.4,135.7 503.2,135.3 504.8,135.2 505.7,135.3 507.4,135.4 508.2,136.0 509.1,136.0 510.6,136.0 512.3,135.7 513.9,135.2 515.5,135.7 517.0,135.3 518.6,136.0 519.4,135.5 520.8,135.9 521.8,135.4 522.9,135.8 524.4,135.6 525.6,135.6 526.8,135.6 527.6,135.7 529.4,135.6 531.0,135.3 532.5,135.9 533.9,135.7 535.2,135.8 536.9,135.3 537.8,135.9 539.5,135.7 540.8,135.8 541.8,135.4 542.8,135.7 543.9,135.4 545.4,136.1 546.5,135.8 547.7,136.0 549.1,135.4 550.1,135.2 551.4,135.5 552.3,135.5 553.4,135.9 554.4,136.1 555.7,135.7 556.9,136.0 558.6,135.7 559.8,135.8 561.5,135.6 563.0,136.1 564.3,135.4 565.3,135.8 566.8,136.1 568.5,135.4 569.5,135.4 570.4,135.8 570.0,135.2" fill="#800000"/>
</g>
<path d="M490.6,134.6 Q502.8,142.5 515,134.6 Z" fill="#7a1060"/>
<circle cx="502.8" cy="130.9" r="12.6" fill="url(#smR)" opacity="0.52"/>
<circle cx="502.2" cy="129.5" r="64.6" fill="url(#sphL)"/>
<text x="502.60" y="16.30" class="ttlR" text-anchor="middle">Feasible Solution Set</text>
<text transform="translate(373.5,120.6) rotate(-90)" class="alR" text-anchor="middle">Z (km)</text>
<rect x="647.8" y="19.0" width="14.0" height="223.5" fill="url(#cbR)" stroke="#3a3a3a" stroke-width="0.5"/>
<line x1="659.60" y1="225.11" x2="661.80" y2="225.11" class="ax"/>
<text x="665.00" y="228.11" class="tkR" text-anchor="start">1</text>
<line x1="659.60" y1="201.61" x2="661.80" y2="201.61" class="ax"/>
<text x="665.00" y="204.61" class="tkR" text-anchor="start">2</text>
<line x1="659.60" y1="178.11" x2="661.80" y2="178.11" class="ax"/>
<text x="665.00" y="181.11" class="tkR" text-anchor="start">3</text>
<line x1="659.60" y1="154.60" x2="661.80" y2="154.60" class="ax"/>
<text x="665.00" y="157.60" class="tkR" text-anchor="start">4</text>
<line x1="659.60" y1="131.10" x2="661.80" y2="131.10" class="ax"/>
<text x="665.00" y="134.10" class="tkR" text-anchor="start">5</text>
<line x1="659.60" y1="107.60" x2="661.80" y2="107.60" class="ax"/>
<text x="665.00" y="110.60" class="tkR" text-anchor="start">6</text>
<line x1="659.60" y1="84.10" x2="661.80" y2="84.10" class="ax"/>
<text x="665.00" y="87.10" class="tkR" text-anchor="start">7</text>
<line x1="659.60" y1="60.60" x2="661.80" y2="60.60" class="ax"/>
<text x="665.00" y="63.60" class="tkR" text-anchor="start">8</text>
<line x1="659.60" y1="37.10" x2="661.80" y2="37.10" class="ax"/>
<text x="665.00" y="40.10" class="tkR" text-anchor="start">9</text>
<text transform="translate(682.2,131.2) rotate(-90)" class="al" style="font-size:10.3px" text-anchor="middle">Δv (m/s)</text>
<rect x="532.6" y="23.3" width="106.1" height="43.4" fill="#fff" stroke="#3c3c3c" stroke-width="0.6"/>
<rect x="535.4" y="26.3" width="26.6" height="6.8" fill="#8080ff"/>
<rect x="535.4" y="36.6" width="26.6" height="6.8" fill="#e6e6ff"/>
<circle cx="548.7" cy="50.3" r="2.2" fill="#ff8c00"/>
<line x1="535.4" y1="60.9" x2="556.4" y2="60.9" stroke="#ff8c00" stroke-width="1.8"/>
<polygon points="562.5,60.9 554.0,58.5 554.0,63.3" fill="#ff8c00"/>
<text x="563.7" y="32.53" style="font-size:7.87px" class="lg">r=10km Boundary</text>
<text x="563.7" y="42.83" style="font-size:7.87px" class="lg">r=50km Boundary</text>
<text x="563.7" y="53.13" style="font-size:7.87px" class="lg">Manoeuvre Solution</text>
<text x="563.7" y="63.73" style="font-size:7.87px" class="lg">Sun Vector Direction</text>
<text x="399.00" y="238.60" class="tkR" text-anchor="end">50</text>
<text x="399.50" y="244.50" class="tkR" text-anchor="end">0</text>
<text x="400.60" y="250.60" class="tkR" text-anchor="end">-50</text>
<text transform="translate(389.2,261.6) rotate(-90)" class="al" text-anchor="middle">X (km)</text>
</svg>
</body></html>
